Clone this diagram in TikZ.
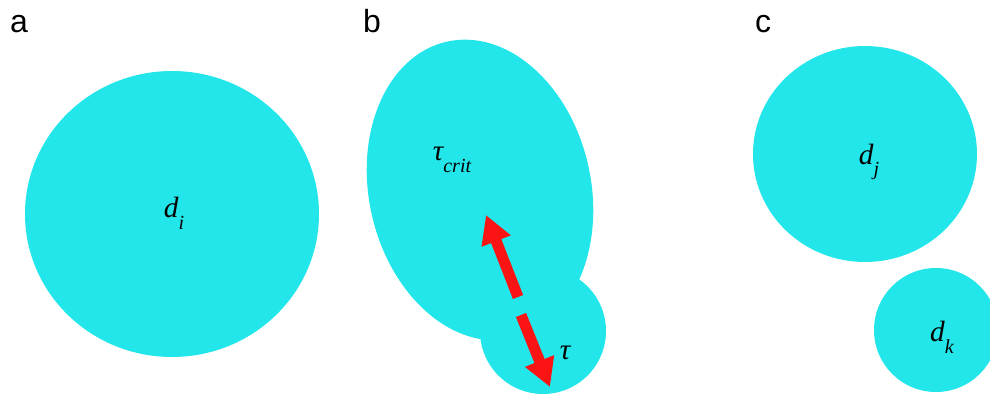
\documentclass[tikz,border=0pt]{standalone}
\usepackage{fontspec}
\setmainfont{Liberation Serif}
\newfontfamily\lblfont{Liberation Sans}
\usetikzlibrary{arrows.meta}
\definecolor{cyanfill}{RGB}{34,230,234}
\definecolor{arrowred}{RGB}{250,20,20}
\newcommand{\sym}[2]{{\itshape #1}\raisebox{-0.4em}{\fontsize{15}{18}\selectfont\itshape #2}}
\begin{document}
\begin{tikzpicture}[x=0.75pt,y=0.75pt,
  blob/.style={fill=cyanfill},
  panel/.style={font=\lblfont\fontsize{24}{28}\selectfont, anchor=base},
  sym/.style={font=\fontsize{22}{26}\selectfont, inner sep=0pt},
  redarrow/.style={draw=arrowred, line width=8.2pt, -{Triangle[width=22pt,length=21pt]}}]
\useasboundingbox (0,0) rectangle (990,397);
% shapes
\fill[blob] (172,183) ellipse [x radius=147, y radius=143];
\fill[blob, rotate around={12.5:(480,207)}] (480,207) ellipse [x radius=111, y radius=152];
\fill[blob] (543,66) circle [radius=63];
\fill[blob] (865,243) ellipse [x radius=112, y radius=108];
\fill[blob] (936,67) circle [radius=62];
% panel letters
\node[panel] (la) at (19,364) {a};
\node[panel] (lb) at (372,364) {b};
\node[panel] (lc) at (763,364) {c};
% symbols
\node[sym] (di) at (174,184) {\sym{d}{i}};
\node[sym] (tc) at (452,237) {\sym{τ}{crit}};
\node[sym] (t) at (565,44) {\itshape τ};
\node[sym] (dj) at (869,235) {\sym{d}{j}};
\node[sym] (dk) at (942,60) {\sym{d}{k}};
% arrow
\coordinate (u0) at (518,100);
\coordinate (u1) at (486,182);
\coordinate (l0) at (521,82);
\coordinate (l1) at (550,10);
\draw[redarrow] (u0) -- (u1);
\draw[redarrow] (l0) -- (l1);
\end{tikzpicture}
\end{document}
